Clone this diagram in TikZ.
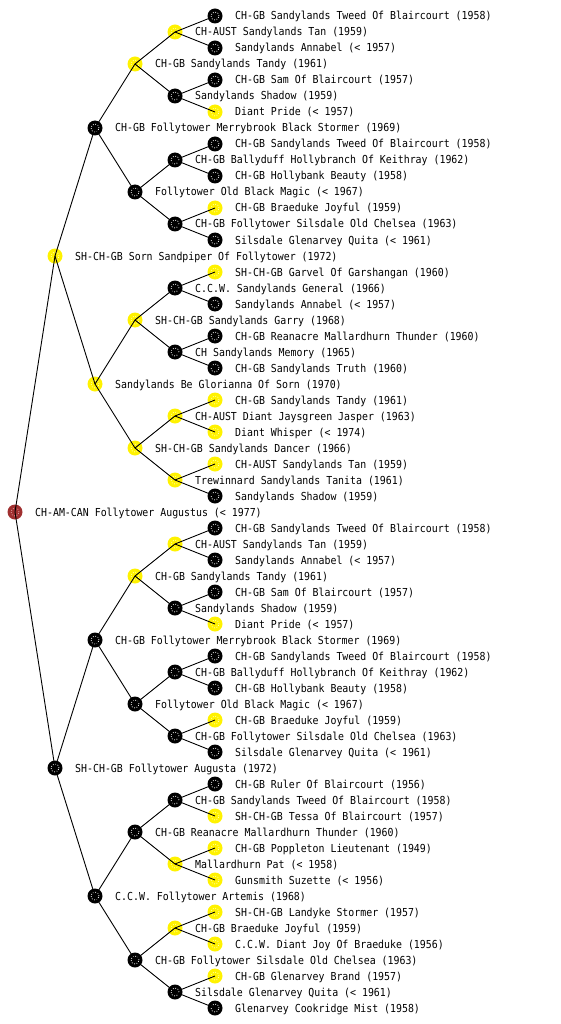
\documentclass[tikz,border=0pt]{standalone}
\usepackage{fontspec}
\newfontfamily\pedfont[FakeStretch=0.9]{DejaVu Sans Mono}
\definecolor{dogred}{RGB}{160,48,48}
\definecolor{dotyel}{RGB}{255,255,190}
\definecolor{dotred}{RGB}{230,170,170}
\newcommand\pedi[4]{%
  \pgfmathsetmacro\px{15+40*#2}%
  \pgfmathsetmacro\py{16+16*#1}%
  \node[#3] (n#1) at (\px,\py) {};
  \node[pedname] (t#1) at (\px+20,\py+4) {#4};}
\begin{document}
\begin{tikzpicture}[x=1pt,y=-1pt,
  dog/.style={circle, inner sep=0pt, minimum size=15pt,
    path picture={\draw[#1, line width=0.8pt, dash pattern=on 0.8pt off 1.7pt]
      (path picture bounding box.center) circle[radius=4pt];}},
  blk/.style={dog=white, fill=black},
  yel/.style={dog=dotyel, fill=yellow},
  rootdog/.style={dog=dotred, fill=dogred},
  pedname/.style={anchor=base west, inner sep=0pt, font=\pedfont\fontsize{11}{13}\selectfont},
  link/.style={draw=black, line width=0.9pt}]
\useasboundingbox (0,0) rectangle (560,1024);
\pedi{0}{5}{blk}{CH-GB Sandylands Tweed Of Blaircourt (1958)}
\pedi{1}{4}{yel}{CH-AUST Sandylands Tan (1959)}
\pedi{2}{5}{blk}{Sandylands Annabel (< 1957)}
\pedi{3}{3}{yel}{CH-GB Sandylands Tandy (1961)}
\pedi{4}{5}{blk}{CH-GB Sam Of Blaircourt (1957)}
\pedi{5}{4}{blk}{Sandylands Shadow (1959)}
\pedi{6}{5}{yel}{Diant Pride (< 1957)}
\pedi{7}{2}{blk}{CH-GB Follytower Merrybrook Black Stormer (1969)}
\pedi{8}{5}{blk}{CH-GB Sandylands Tweed Of Blaircourt (1958)}
\pedi{9}{4}{blk}{CH-GB Ballyduff Hollybranch Of Keithray (1962)}
\pedi{10}{5}{blk}{CH-GB Hollybank Beauty (1958)}
\pedi{11}{3}{blk}{Follytower Old Black Magic (< 1967)}
\pedi{12}{5}{yel}{CH-GB Braeduke Joyful (1959)}
\pedi{13}{4}{blk}{CH-GB Follytower Silsdale Old Chelsea (1963)}
\pedi{14}{5}{blk}{Silsdale Glenarvey Quita (< 1961)}
\pedi{15}{1}{yel}{SH-CH-GB Sorn Sandpiper Of Follytower (1972)}
\pedi{16}{5}{yel}{SH-CH-GB Garvel Of Garshangan (1960)}
\pedi{17}{4}{blk}{C.C.W. Sandylands General (1966)}
\pedi{18}{5}{blk}{Sandylands Annabel (< 1957)}
\pedi{19}{3}{yel}{SH-CH-GB Sandylands Garry (1968)}
\pedi{20}{5}{blk}{CH-GB Reanacre Mallardhurn Thunder (1960)}
\pedi{21}{4}{blk}{CH Sandylands Memory (1965)}
\pedi{22}{5}{blk}{CH-GB Sandylands Truth (1960)}
\pedi{23}{2}{yel}{Sandylands Be Glorianna Of Sorn (1970)}
\pedi{24}{5}{yel}{CH-GB Sandylands Tandy (1961)}
\pedi{25}{4}{yel}{CH-AUST Diant Jaysgreen Jasper (1963)}
\pedi{26}{5}{yel}{Diant Whisper (< 1974)}
\pedi{27}{3}{yel}{SH-CH-GB Sandylands Dancer (1966)}
\pedi{28}{5}{yel}{CH-AUST Sandylands Tan (1959)}
\pedi{29}{4}{yel}{Trewinnard Sandylands Tanita (1961)}
\pedi{30}{5}{blk}{Sandylands Shadow (1959)}
\pedi{31}{0}{rootdog}{CH-AM-CAN Follytower Augustus (< 1977)}
\pedi{32}{5}{blk}{CH-GB Sandylands Tweed Of Blaircourt (1958)}
\pedi{33}{4}{yel}{CH-AUST Sandylands Tan (1959)}
\pedi{34}{5}{blk}{Sandylands Annabel (< 1957)}
\pedi{35}{3}{yel}{CH-GB Sandylands Tandy (1961)}
\pedi{36}{5}{blk}{CH-GB Sam Of Blaircourt (1957)}
\pedi{37}{4}{blk}{Sandylands Shadow (1959)}
\pedi{38}{5}{yel}{Diant Pride (< 1957)}
\pedi{39}{2}{blk}{CH-GB Follytower Merrybrook Black Stormer (1969)}
\pedi{40}{5}{blk}{CH-GB Sandylands Tweed Of Blaircourt (1958)}
\pedi{41}{4}{blk}{CH-GB Ballyduff Hollybranch Of Keithray (1962)}
\pedi{42}{5}{blk}{CH-GB Hollybank Beauty (1958)}
\pedi{43}{3}{blk}{Follytower Old Black Magic (< 1967)}
\pedi{44}{5}{yel}{CH-GB Braeduke Joyful (1959)}
\pedi{45}{4}{blk}{CH-GB Follytower Silsdale Old Chelsea (1963)}
\pedi{46}{5}{blk}{Silsdale Glenarvey Quita (< 1961)}
\pedi{47}{1}{blk}{SH-CH-GB Follytower Augusta (1972)}
\pedi{48}{5}{blk}{CH-GB Ruler Of Blaircourt (1956)}
\pedi{49}{4}{blk}{CH-GB Sandylands Tweed Of Blaircourt (1958)}
\pedi{50}{5}{yel}{SH-CH-GB Tessa Of Blaircourt (1957)}
\pedi{51}{3}{blk}{CH-GB Reanacre Mallardhurn Thunder (1960)}
\pedi{52}{5}{yel}{CH-GB Poppleton Lieutenant (1949)}
\pedi{53}{4}{yel}{Mallardhurn Pat (< 1958)}
\pedi{54}{5}{yel}{Gunsmith Suzette (< 1956)}
\pedi{55}{2}{blk}{C.C.W. Follytower Artemis (1968)}
\pedi{56}{5}{yel}{SH-CH-GB Landyke Stormer (1957)}
\pedi{57}{4}{yel}{CH-GB Braeduke Joyful (1959)}
\pedi{58}{5}{yel}{C.C.W. Diant Joy Of Braeduke (1956)}
\pedi{59}{3}{blk}{CH-GB Follytower Silsdale Old Chelsea (1963)}
\pedi{60}{5}{yel}{CH-GB Glenarvey Brand (1957)}
\pedi{61}{4}{blk}{Silsdale Glenarvey Quita (< 1961)}
\pedi{62}{5}{blk}{Glenarvey Cookridge Mist (1958)}
\foreach \p/\d in {31/16,15/8,47/8,7/4,23/4,39/4,55/4,
  3/2,11/2,19/2,27/2,35/2,43/2,51/2,59/2,
  1/1,5/1,9/1,13/1,17/1,21/1,25/1,29/1,33/1,37/1,41/1,45/1,49/1,53/1,57/1,61/1}{
  \pgfmathtruncatemacro\ca{\p-\d}
  \pgfmathtruncatemacro\cb{\p+\d}
  \draw[link] (n\p.center) -- (n\ca.center);
  \draw[link] (n\p.center) -- (n\cb.center);
}
\end{tikzpicture}
\end{document}
